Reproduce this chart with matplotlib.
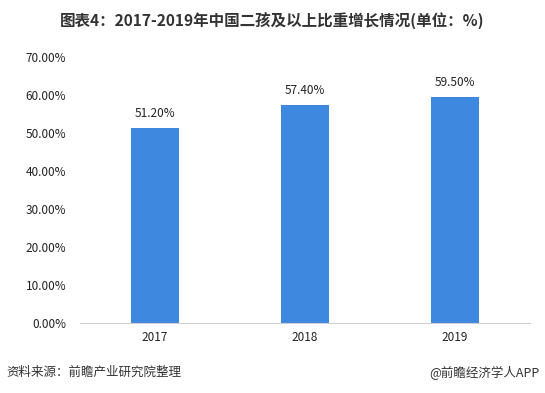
import matplotlib.pyplot as plt

plt.rcParams['font.family'] = ['Noto Sans CJK SC', 'DejaVu Sans']

# 数据
years = ['2017', '2018', '2019']
values = [51.20, 57.40, 59.50]
yticks = [0, 10, 20, 30, 40, 50, 60, 70]

fig = plt.figure(figsize=(5.45, 3.93), dpi=100)
ax = fig.add_axes([0.147, 0.178, 0.825, 0.677])

x = range(len(years))
bars = ax.bar(x, values, width=0.32, color='#3F88E0', zorder=2)
for xi, v in zip(x, values):
    ax.text(xi, v + 2.2, f'{v:.2f}%', ha='center', va='bottom', fontsize=8.5, color='#222222')

ax.set_xlim(-0.5, 2.5)
ax.set_ylim(0, 70)
ax.set_xticks(list(x))
ax.set_xticklabels(years, fontsize=8.5, color='#222222')
ax.set_yticks(yticks)
ax.set_yticklabels([f'{t:.2f}%' for t in yticks], fontsize=8.5, color='#222222')
ax.tick_params(length=0, pad=10)
ax.tick_params(axis='x', pad=6)
for s in ['top', 'right', 'left']:
    ax.spines[s].set_visible(False)
ax.spines['bottom'].set_color('#d0d0d0')

fig.text(0.5, 0.948, '图表4：2017-2019年中国二孩及以上比重增长情况(单位：%)',
         ha='center', va='center', fontsize=11.2, fontweight='bold', color='#333333')
fig.text(0.012, 0.052, '资料来源：前瞻产业研究院整理', ha='left', va='center', fontsize=9, color='#333333')
fig.text(0.99, 0.052, '@前瞻经济学人APP', ha='right', va='center', fontsize=9, color='#333333')

fig.savefig('out.png', dpi=100)
